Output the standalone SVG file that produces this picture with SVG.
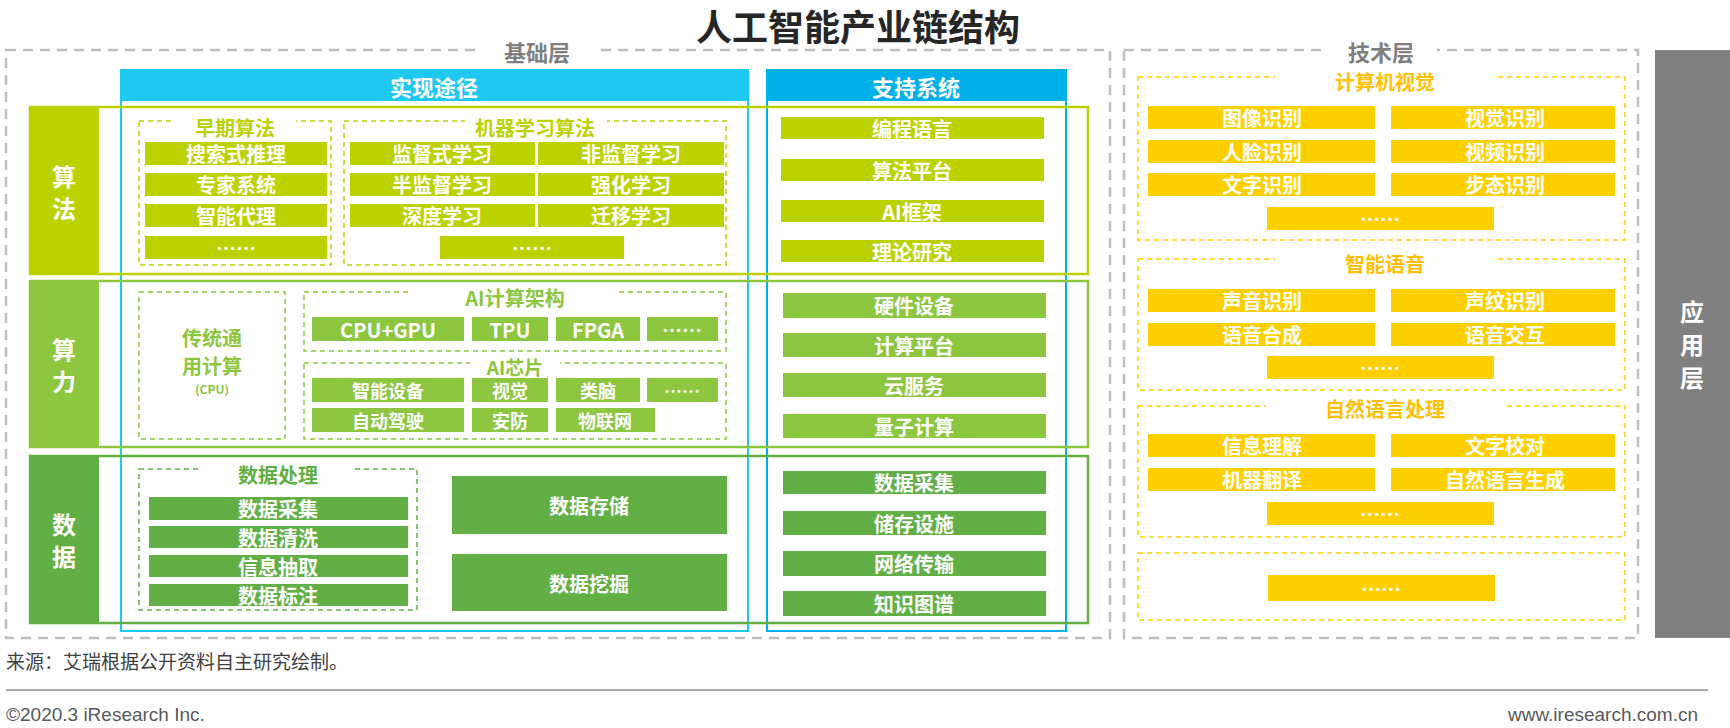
<svg xmlns="http://www.w3.org/2000/svg" width="1730" height="728" viewBox="0 0 1730 728">
<style>
text{font-family:"Noto Sans CJK SC","Liberation Sans",sans-serif;font-weight:bold;text-anchor:middle;dominant-baseline:central}
.w{fill:#fff;font-size:20px}
.gl{fill:#bcd200}.gm{fill:#8dc63f}.gd{fill:#62af46}.y{fill:#ffd000}
.dg{fill:none;stroke:#bfbfbf;stroke-width:2.5;stroke-dasharray:10,7}
.dl{fill:none;stroke:#bcd200;stroke-width:1.5;stroke-dasharray:5,4}
.dm{fill:none;stroke:#8dc63f;stroke-width:1.5;stroke-dasharray:5,4}
.dd{fill:none;stroke:#62af46;stroke-width:1.5;stroke-dasharray:5,4}
.dy{fill:none;stroke:#ffd000;stroke-width:1.5;stroke-dasharray:5,4}
.tl{fill:#bcd200;font-size:20px}.tm{fill:#8dc63f;font-size:20px}.td{fill:#62af46;font-size:20px}.ty{fill:#ffc000;font-size:20px}
.gr{fill:#7f7f7f;font-size:22px}
</style>
<rect width="1730" height="728" fill="#fff"/>
<text x="858" y="25" style="font-size:36px;fill:#262626">人工智能产业链结构</text>
<g id="base">
<rect class="dg" x="6" y="50" width="1104" height="588"/>
<rect x="480" y="38" width="115" height="24" fill="#fff"/>
<text class="gr" x="537" y="51">基础层</text>
</g>
<g id="tech">
<rect class="dg" x="1124" y="50" width="514" height="588"/>
<rect x="1325" y="38" width="112" height="24" fill="#fff"/>
<text class="gr" x="1381" y="51">技术层</text>
</g>
<g id="app"><rect x="1655" y="50" width="75" height="588" fill="#808080"/>
<text class="w" style="font-size:24px" x="1692" y="310">应</text><text class="w" style="font-size:24px" x="1692" y="343">用</text><text class="w" style="font-size:24px" x="1692" y="376">层</text></g>
<g id="impl"><rect x="120" y="70" width="628" height="31" fill="#1ec8f0"/><rect x="121" y="70" width="627" height="561" fill="none" stroke="#1ec8f0" stroke-width="2"/><text class="w" style="font-size:22px" x="434" y="86">实现途径</text></g>
<g id="support"><rect x="767" y="70" width="299" height="31" fill="#00b0e8"/><rect x="767" y="70" width="299" height="561" fill="none" stroke="#00b0e8" stroke-width="2"/><text class="w" style="font-size:22px" x="916" y="86">支持系统</text></g>
<g id="row-algo"><rect x="30" y="107" width="1058" height="167" fill="none" stroke="#bcd200" stroke-width="2.5"/><rect class="gl" x="30" y="107" width="69" height="167"/><text class="w" style="font-size:24px" x="64" y="175">算</text><text class="w" style="font-size:24px" x="64" y="207">法</text></g>
<g id="row-comp"><rect x="30" y="281" width="1058" height="166" fill="none" stroke="#8dc63f" stroke-width="2.5"/><rect class="gm" x="30" y="281" width="69" height="166"/><text class="w" style="font-size:24px" x="64" y="348">算</text><text class="w" style="font-size:24px" x="64" y="380">力</text></g>
<g id="row-data"><rect x="30" y="456" width="1058" height="167" fill="none" stroke="#62af46" stroke-width="2.5"/><rect class="gd" x="30" y="456" width="69" height="167"/><text class="w" style="font-size:24px" x="64" y="523">数</text><text class="w" style="font-size:24px" x="64" y="555">据</text></g>
<g id="early">
<rect class="dl" x="139" y="121" width="192" height="144"/><rect x="172" y="116" width="124" height="22" fill="#fff"/><text class="tl" x="235" y="127">早期算法</text>
<rect class="gl" x="145" y="142" width="182" height="23"/><text class="w" x="236" y="153">搜索式推理</text>
<rect class="gl" x="145" y="173" width="182" height="23"/><text class="w" x="236" y="184">专家系统</text>
<rect class="gl" x="145" y="204" width="182" height="23"/><text class="w" x="236" y="215">智能代理</text>
<rect class="gl" x="145" y="236" width="182" height="23"/><text class="w" x="236" y="247">……</text>
</g>
<g id="ml">
<rect class="dl" x="344" y="121" width="382" height="144"/><rect x="465" y="116" width="142" height="22" fill="#fff"/><text class="tl" x="535" y="127">机器学习算法</text>
<rect class="gl" x="350" y="142" width="185" height="23"/><text class="w" x="442" y="153">监督式学习</text>
<rect class="gl" x="538" y="142" width="186" height="23"/><text class="w" x="631" y="153">非监督学习</text>
<rect class="gl" x="350" y="173" width="185" height="23"/><text class="w" x="442" y="184">半监督学习</text>
<rect class="gl" x="538" y="173" width="186" height="23"/><text class="w" x="631" y="184">强化学习</text>
<rect class="gl" x="350" y="204" width="185" height="23"/><text class="w" x="442" y="215">深度学习</text>
<rect class="gl" x="538" y="204" width="186" height="23"/><text class="w" x="631" y="215">迁移学习</text>
<rect class="gl" x="440" y="236" width="184" height="23"/><text class="w" x="532" y="247">……</text>
</g>
<g id="sup-algo">
<rect class="gl" x="781" y="117" width="263" height="22"/><text class="w" x="912" y="128">编程语言</text>
<rect class="gl" x="781" y="159" width="263" height="22"/><text class="w" x="912" y="170">算法平台</text>
<rect class="gl" x="781" y="200" width="263" height="22"/><text class="w" x="912" y="211">AI框架</text>
<rect class="gl" x="781" y="240" width="263" height="22"/><text class="w" x="912" y="251">理论研究</text>
</g>
<g id="cpu">
<rect class="dm" x="139" y="292" width="146" height="147"/>
<text class="tm" x="212" y="337">传统通</text><text class="tm" x="212" y="365">用计算</text><text class="tm" style="font-size:12px" x="212" y="388">(CPU)</text>
</g>
<g id="ai-arch">
<rect class="dm" x="304" y="292" width="422" height="59"/><rect x="412" y="286" width="205" height="22" fill="#fff"/><text class="tm" x="515" y="297">AI计算架构</text>
<rect class="gm" x="312" y="317" width="152" height="24"/><text class="w" x="388" y="329">CPU+GPU</text>
<rect class="gm" x="472" y="317" width="76" height="24"/><text class="w" x="510" y="329">TPU</text>
<rect class="gm" x="556" y="317" width="84" height="24"/><text class="w" x="598" y="329">FPGA</text>
<rect class="gm" x="647" y="317" width="71" height="24"/><text class="w" x="682" y="329">……</text>
</g>
<g id="ai-chip">
<rect class="dm" x="304" y="363" width="422" height="76"/><rect x="470" y="356" width="90" height="20" fill="#fff"/><text class="tm" style="font-size:19px" x="515" y="366">AI芯片</text>
<rect class="gm" x="312" y="378" width="152" height="24"/><text class="w" style="font-size:18px" x="388" y="390">智能设备</text>
<rect class="gm" x="472" y="378" width="76" height="24"/><text class="w" style="font-size:18px" x="510" y="390">视觉</text>
<rect class="gm" x="556" y="378" width="84" height="24"/><text class="w" style="font-size:18px" x="598" y="390">类脑</text>
<rect class="gm" x="647" y="378" width="71" height="24"/><text class="w" style="font-size:18px" x="682" y="390">……</text>
<rect class="gm" x="312" y="408" width="152" height="24"/><text class="w" style="font-size:18px" x="388" y="420">自动驾驶</text>
<rect class="gm" x="472" y="408" width="76" height="24"/><text class="w" style="font-size:18px" x="510" y="420">安防</text>
<rect class="gm" x="556" y="408" width="99" height="24"/><text class="w" style="font-size:18px" x="605" y="420">物联网</text>
</g>
<g id="sup-comp">
<rect class="gm" x="783" y="293" width="263" height="25"/><text class="w" x="914" y="305">硬件设备</text>
<rect class="gm" x="783" y="333" width="263" height="24"/><text class="w" x="914" y="345">计算平台</text>
<rect class="gm" x="783" y="373" width="263" height="24"/><text class="w" x="914" y="385">云服务</text>
<rect class="gm" x="783" y="414" width="263" height="24"/><text class="w" x="914" y="426">量子计算</text>
</g>
<g id="proc">
<rect class="dd" x="139" y="469" width="278" height="141"/><rect x="200" y="463" width="155" height="22" fill="#fff"/><text class="td" x="278" y="474">数据处理</text>
<rect class="gd" x="149" y="497" width="259" height="23"/><text class="w" x="278" y="508">数据采集</text>
<rect class="gd" x="149" y="526" width="259" height="22"/><text class="w" x="278" y="537">数据清洗</text>
<rect class="gd" x="149" y="555" width="259" height="22"/><text class="w" x="278" y="566">信息抽取</text>
<rect class="gd" x="149" y="584" width="259" height="22"/><text class="w" x="278" y="595">数据标注</text>
</g>
<g id="store"><rect class="gd" x="452" y="476" width="275" height="58"/><text class="w" x="589" y="505">数据存储</text></g>
<g id="mine"><rect class="gd" x="452" y="554" width="275" height="57"/><text class="w" x="589" y="583">数据挖掘</text></g>
<g id="sup-data">
<rect class="gd" x="783" y="471" width="263" height="23"/><text class="w" x="914" y="482">数据采集</text>
<rect class="gd" x="783" y="511" width="263" height="24"/><text class="w" x="914" y="523">储存设施</text>
<rect class="gd" x="783" y="551" width="263" height="25"/><text class="w" x="914" y="563">网络传输</text>
<rect class="gd" x="783" y="591" width="263" height="25"/><text class="w" x="914" y="603">知识图谱</text>
</g>
<g id="cv">
<rect class="dy" x="1138" y="77" width="487" height="163"/><rect x="1275" y="68" width="220" height="24" fill="#fff"/><text class="ty" x="1385" y="81">计算机视觉</text>
<rect class="y" x="1148" y="106" width="227" height="23"/><text class="w" x="1262" y="117">图像识别</text>
<rect class="y" x="1391" y="106" width="224" height="23"/><text class="w" x="1505" y="117">视觉识别</text>
<rect class="y" x="1148" y="140" width="227" height="23"/><text class="w" x="1262" y="151">人脸识别</text>
<rect class="y" x="1391" y="140" width="224" height="23"/><text class="w" x="1505" y="151">视频识别</text>
<rect class="y" x="1148" y="173" width="227" height="23"/><text class="w" x="1262" y="184">文字识别</text>
<rect class="y" x="1391" y="173" width="224" height="23"/><text class="w" x="1505" y="184">步态识别</text>
<rect class="y" x="1267" y="207" width="227" height="23"/><text class="w" x="1380" y="218">……</text>
</g>
<g id="speech">
<rect class="dy" x="1138" y="259" width="487" height="131"/><rect x="1275" y="250" width="220" height="24" fill="#fff"/><text class="ty" x="1385" y="263">智能语音</text>
<rect class="y" x="1148" y="289" width="227" height="23"/><text class="w" x="1262" y="300">声音识别</text>
<rect class="y" x="1391" y="289" width="224" height="23"/><text class="w" x="1505" y="300">声纹识别</text>
<rect class="y" x="1148" y="323" width="227" height="23"/><text class="w" x="1262" y="334">语音合成</text>
<rect class="y" x="1391" y="323" width="224" height="23"/><text class="w" x="1505" y="334">语音交互</text>
<rect class="y" x="1267" y="356" width="227" height="23"/><text class="w" x="1380" y="367">……</text>
</g>
<g id="nlp">
<rect class="dy" x="1138" y="406" width="487" height="131"/><rect x="1266" y="396" width="238" height="24" fill="#fff"/><text class="ty" x="1385" y="408">自然语言处理</text>
<rect class="y" x="1148" y="434" width="227" height="23"/><text class="w" x="1262" y="445">信息理解</text>
<rect class="y" x="1391" y="434" width="224" height="23"/><text class="w" x="1505" y="445">文字校对</text>
<rect class="y" x="1148" y="468" width="227" height="23"/><text class="w" x="1262" y="479">机器翻译</text>
<rect class="y" x="1391" y="468" width="224" height="23"/><text class="w" x="1505" y="479">自然语言生成</text>
<rect class="y" x="1267" y="502" width="227" height="23"/><text class="w" x="1380" y="513">……</text>
</g>
<g id="other">
<rect class="dy" x="1138" y="553" width="487" height="67"/>
<rect class="y" x="1268" y="575" width="227" height="26"/><text class="w" x="1381" y="588">……</text>
</g>
<g id="connectors"></g>
<text x="6" y="660" style="text-anchor:start;font-weight:normal;font-size:19px;fill:#404040">来源：艾瑞根据公开资料自主研究绘制。</text>
<line x1="6" y1="690" x2="1708" y2="690" stroke="#8c8c8c" stroke-width="1.5"/>
<text x="6" y="714" style="text-anchor:start;font-weight:normal;font-size:19px;fill:#595959;font-family:'Liberation Sans',sans-serif">©2020.3 iResearch Inc.</text>
<text x="1698" y="714" style="text-anchor:end;font-weight:normal;font-size:19px;fill:#595959;font-family:'Liberation Sans',sans-serif">www.iresearch.com.cn</text>
</svg>
